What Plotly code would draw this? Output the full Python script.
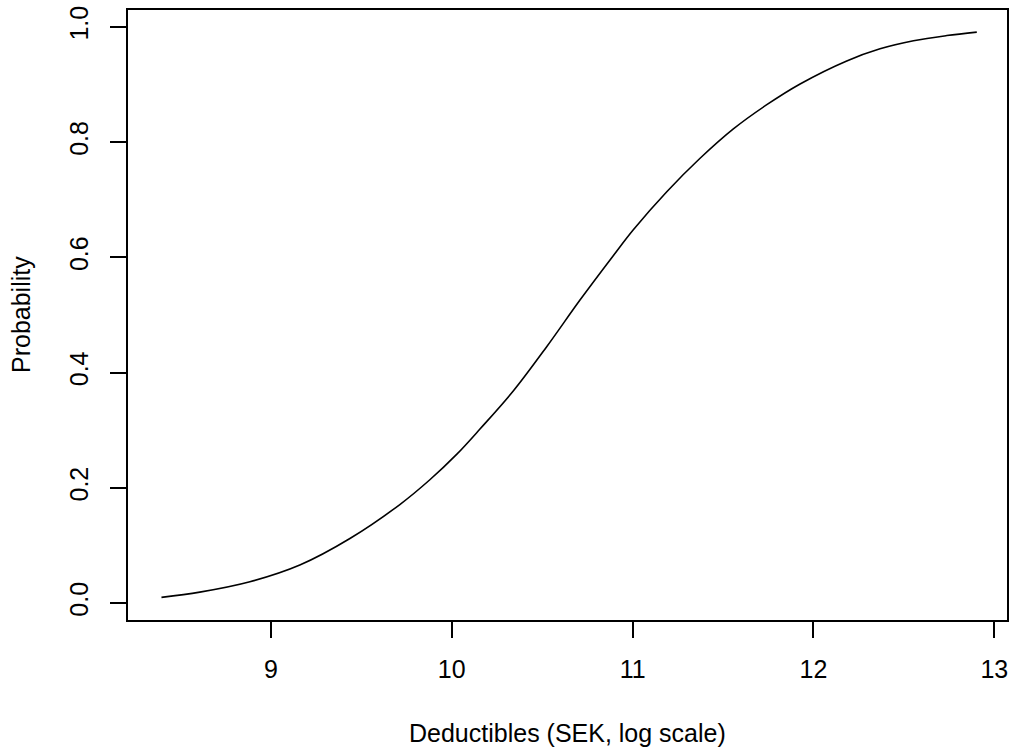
import plotly.graph_objects as go

# Values
deductible_log = [8.395, 8.607, 8.884, 9.160, 9.437, 9.713, 9.879, 10.027, 10.156,
                  10.340, 10.525, 10.709, 10.893, 11.004, 11.189, 11.373, 11.557,
                  11.742, 11.926, 12.184, 12.368, 12.553, 12.737, 12.903]
probability = [0.0099, 0.019, 0.037, 0.066, 0.112, 0.171, 0.214, 0.258, 0.302,
               0.368, 0.445, 0.526, 0.603, 0.648, 0.714, 0.772, 0.823,
               0.865, 0.901, 0.941, 0.962, 0.976, 0.985, 0.991]

x_ticks = [9, 10, 11, 12, 13]
y_ticks = [0.0, 0.2, 0.4, 0.6, 0.8, 1.0]
y_tick_labels = ["0.0", "0.2", "0.4", "0.6", "0.8", "1.0"]

x_title = "Deductibles (SEK, log scale)"
y_title = "Probability"

FONT = "Liberation Sans, Arial, Helvetica, sans-serif"
FS = 25

fig = go.Figure()
fig.add_trace(go.Scatter(x=deductible_log, y=probability, mode="lines",
                         line=dict(color="black", width=1.6, shape="spline", smoothing=1.0),
                         showlegend=False, hoverinfo="skip"))

fig.update_layout(
    width=1010, height=748,
    margin=dict(l=128, r=1, t=10, b=128),
    paper_bgcolor="white", plot_bgcolor="white",
    font=dict(family=FONT, size=FS, color="black"),
    showlegend=False,
)
fig.update_xaxes(range=[8.21, 13.07], tickvals=x_ticks, ticktext=[str(t) for t in x_ticks],
                 ticks="outside", ticklen=16, tickwidth=1.8, tickcolor="black",
                 showline=True, linecolor="black", linewidth=1.8, mirror=True,
                 showgrid=False, zeroline=False, tickfont=dict(size=FS),
                 ticklabelstandoff=10, ticklabeloverflow="allow")
fig.update_yaxes(range=[-0.0294, 1.0294], tickvals=y_ticks, ticktext=y_tick_labels,
                 ticks="outside", ticklen=16, tickwidth=1.8, tickcolor="black",
                 showline=True, linecolor="black", linewidth=1.8, mirror=True,
                 showgrid=False, zeroline=False, tickangle=-90, tickfont=dict(size=FS),
                 ticklabelstandoff=12, ticklabeloverflow="allow")

fig.add_annotation(text=x_title, xref="paper", yref="paper", x=0.5, y=0,
                   yshift=-113, showarrow=False, xanchor="center", yanchor="middle",
                   font=dict(size=FS))
fig.add_annotation(text=y_title, xref="paper", yref="paper", x=0, y=0.5,
                   xshift=-107, showarrow=False, xanchor="center", yanchor="middle",
                   textangle=-90, font=dict(size=FS))

fig.write_html("out.html", config={"displayModeBar": False},
               post_script="document.body.style.margin='0';"
                           "document.body.style.overflow='hidden';")
